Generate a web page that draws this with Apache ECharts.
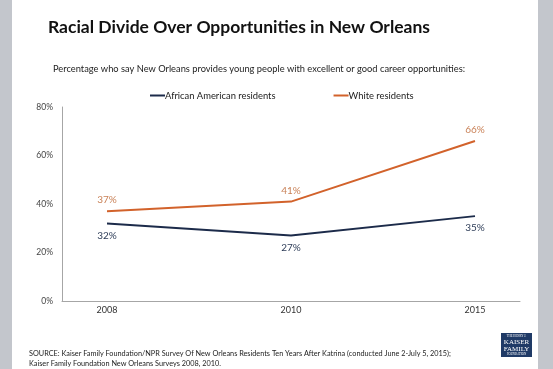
<!DOCTYPE html>
<html><head><meta charset="utf-8">
<script src="https://cdn.jsdelivr.net/npm/echarts@6/dist/echarts.min.js"></script>
<style>html,body{margin:0;padding:0;background:#c3c6cc;}#c{width:553px;height:369px;}</style>
</head><body><div id="c"></div>
<script>
const categories = ['2008', '2010', '2015'];
const africanAmerican = [32, 27, 35];
const white = [37, 41, 66];
const yTicks = [0, 20, 40, 60, 80];
const FONT = 'Lato, "Open Sans", sans-serif';
const chart = echarts.init(document.getElementById('c'));
chart.setOption({
  animation: false,
  backgroundColor: 'transparent',
  textStyle: { fontFamily: FONT },
  title: [
    { text: 'Racial Divide Over Opportunities in New Orleans', left: 43, top: 13,
      textStyle: { fontSize: 17.5, fontWeight: 'bold', color: '#111', fontFamily: FONT } },
    { text: 'Percentage who say New Orleans provides young people with excellent or good career opportunities:', left: 48, top: 59,
      textStyle: { fontSize: 9.3, fontWeight: 'normal', color: '#222', fontFamily: FONT } },
    { text: 'SOURCE: Kaiser Family Foundation/NPR Survey Of New Orleans Residents Ten Years After Katrina (conducted June 2-July 5, 2015);\nKaiser Family Foundation New Orleans Surveys 2008, 2010.', left: 24, top: 344,
      textStyle: { fontSize: 7.3, lineHeight: 9.5, fontWeight: 'normal', color: '#222', fontFamily: FONT } }
  ],
  legend: {
    top: 86, left: 145, itemGap: 58, itemWidth: 15, itemHeight: 2,
    icon: 'rect',
    textStyle: { fontSize: 9.4, color: '#222', padding: [0, 0, 0, -5], fontFamily: FONT },
    data: ['African American residents', 'White residents']
  },
  graphic: [
    { type: 'rect', z: -10, shape: { x: 12, y: 0, width: 526, height: 369 }, style: { fill: '#ffffff' } },
    { type: 'group', left: 501, top: 333, children: [
      { type: 'rect', shape: { x: 0, y: 0, width: 31, height: 24 }, style: { fill: '#1f3a66' } },
      { type: 'text', style: { x: 15.5, y: 2, text: 'THE HENRY J.', fill: '#fff', fontSize: 3, align: 'center', fontFamily: 'Liberation Serif' } },
      { type: 'text', style: { x: 15.5, y: 6, text: 'KAISER', fill: '#fff', fontSize: 7, align: 'center', fontFamily: 'Liberation Serif' } },
      { type: 'text', style: { x: 15.5, y: 12.5, text: 'FAMILY', fill: '#fff', fontSize: 7, align: 'center', fontFamily: 'Liberation Serif' } },
      { type: 'text', style: { x: 15.5, y: 19.5, text: 'FOUNDATION', fill: '#fff', fontSize: 3, align: 'center', fontFamily: 'Liberation Serif' } }
    ] }
  ],
  grid: [
    { left: 107, right: 78, top: 107, bottom: 68 },
    { left: 62, right: 33, top: 107, bottom: 68 }
  ],
  xAxis: [
    { type: 'category', gridIndex: 0, data: categories, boundaryGap: false,
      axisLine: { show: false }, axisTick: { show: false },
      axisLabel: { fontSize: 9, color: '#333', margin: 5 } },
    { type: 'category', gridIndex: 1, data: categories,
      axisLine: { lineStyle: { color: '#a6a6a6' } }, axisTick: { show: false },
      axisLabel: { show: false } }
  ],
  yAxis: [
    { type: 'value', gridIndex: 0, min: 0, max: 80, interval: 20, show: false, splitLine: { show: false } },
    { type: 'value', gridIndex: 1, min: yTicks[0], max: yTicks[yTicks.length - 1], interval: 20,
      axisLine: { show: true, lineStyle: { color: '#a6a6a6' } }, axisTick: { show: false },
      splitLine: { show: false },
      axisLabel: { fontSize: 8.5, color: '#444', margin: 9, formatter: '{value}%' } }
  ],
  series: [
    { name: 'African American residents', type: 'line', xAxisIndex: 0, yAxisIndex: 0,
      data: africanAmerican, symbol: 'circle', symbolSize: 0, showSymbol: true, color: '#1c2b4a',
      lineStyle: { width: 2, color: '#1c2b4a' },
      label: { show: true, position: 'bottom', distance: 7, formatter: '{c}%', fontSize: 10, color: '#2e3d58' } },
    { name: 'White residents', type: 'line', xAxisIndex: 0, yAxisIndex: 0,
      data: white, symbol: 'circle', symbolSize: 0, showSymbol: true, color: '#d2622b',
      lineStyle: { width: 2, color: '#d2622b' },
      label: { show: true, position: 'top', distance: 6, formatter: '{c}%', fontSize: 10, color: '#c98157' } }
  ]
});
</script></body></html>
